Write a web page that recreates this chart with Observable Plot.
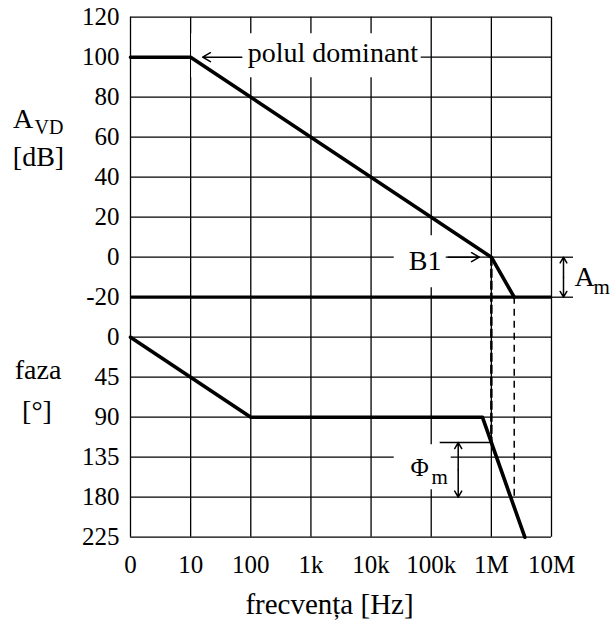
<!DOCTYPE html>
<html><head><meta charset="utf-8">
<script src="https://cdn.jsdelivr.net/npm/d3@7"></script>
<script src="https://cdn.jsdelivr.net/npm/@observablehq/plot@0.6"></script>
<style>html,body{margin:0;padding:0;background:#fff}</style>
</head><body><div id="chart"></div>
<script>
// ---- data ----
const freqTicks = [1, 10, 100, 1e3, 1e4, 1e5, 1e6, 1e7];
const freqLabels = ["0", "10", "100", "1k", "10k", "100k", "1M", "10M"];
const gainTicks = [120, 100, 80, 60, 40, 20, 0, -20];
const phaseTicks = [0, 45, 90, 135, 180, 225];

const gainFreq = [1, 10, 1e6, 2.4e6];
const gainDb = [100, 100, 0, -20];
const phaseFreq = [1, 100, 7.1e5, 3.6e6];
const phaseDeg = [0, 90, 90, 225];

// ---- shared vertical axis: phase rows continue below the gain rows ----
const dbPerDeg = 20 / 45;
const phaseZero = d3.min(gainTicks) - 20;
const phaseToY = d => phaseZero - d * dbPerDeg;

const yTicks = [...gainTicks, ...phaseTicks.map(phaseToY)];
const yLabels = [...gainTicks, ...phaseTicks].map(String);
const yLabelMap = new Map(yTicks.map((v, i) => [v, yLabels[i]]));
const xLabelMap = new Map(freqTicks.map((v, i) => [v, freqLabels[i]]));

const gain = gainFreq.map((f, i) => ({f, v: gainDb[i]}));
const phase = phaseFreq.map((f, i) => ({f, v: phaseToY(phaseDeg[i])}));

const fCross = gainFreq[gainDb.indexOf(0)];
const fMargin = gainFreq[gainFreq.length - 1];
const gMargin = gainDb[gainDb.length - 1];
function phaseAt(f) {
  const lf = Math.log10(f);
  for (let i = 1; i < phaseFreq.length; i++) {
    const a = Math.log10(phaseFreq[i - 1]), b = Math.log10(phaseFreq[i]);
    if (lf <= b) return phaseDeg[i - 1] + (phaseDeg[i] - phaseDeg[i - 1]) * (lf - a) / (b - a);
  }
  return phaseDeg[phaseDeg.length - 1];
}
const phiCross = phaseAt(fCross);
const phase180 = phaseTicks[4];

const F = "'Liberation Serif', 'Times New Roman', serif";
const one = [0];

const plot = Plot.plot({
  width: 615,
  height: 621,
  marginLeft: 130,
  marginRight: 64,
  marginTop: 16.7,
  marginBottom: 84.3,
  style: {fontFamily: F, fontSize: "25px", background: "white", color: "black"},
  x: {type: "log", domain: [freqTicks[0], freqTicks[freqTicks.length - 1]]},
  y: {domain: [phaseToY(d3.max(phaseTicks)), d3.max(gainTicks)]},
  marks: [
    // grid
    Plot.ruleX(freqTicks, {x: d => d, stroke: "black", strokeWidth: 1.3}),
    Plot.ruleY(yTicks, {y: d => d, stroke: "black", strokeWidth: 1.3}),
    Plot.ruleY([0, gMargin], {y: d => d, x1: 1e7, x2: 1e7, insetRight: -22, stroke: "black", strokeWidth: 1.3}),
    // white label backgrounds
    Plot.ruleY([gainDb[1]], {y: d => d, x1: 10, x2: 1e5, insetLeft: 1, insetRight: 10, dy: -2, stroke: "white", strokeWidth: 44}),
    Plot.ruleY([0], {y: d => d, x1: 1e5, x2: 1e5, insetLeft: -37, insetRight: -15, dy: 4, stroke: "white", strokeWidth: 52}),
    Plot.ruleY([phaseToY(135)], {y: d => d, x1: 1e5, x2: 1e5, insetLeft: -37, insetRight: -20, dy: 9.5, stroke: "white", strokeWidth: 45}),
    // gain-margin reference level
    Plot.ruleY([gMargin], {y: d => d, stroke: "black", strokeWidth: 3.3}),
    // dashed verticals
    Plot.ruleX([fCross], {x: d => d, y1: 0, y2: phaseToY(phiCross), stroke: "black", strokeWidth: 2.5, strokeDasharray: "9,3"}),
    Plot.ruleX([fMargin], {x: d => d, y1: gMargin, y2: phaseToY(phase180), stroke: "black", strokeWidth: 1.5, strokeDasharray: "7,5"}),
    // curves
    Plot.line(gain, {x: "f", y: "v", stroke: "black", strokeWidth: 3.6}),
    Plot.line(phase, {x: "f", y: "v", stroke: "black", strokeWidth: 3.6}),
    // phase margin reference tick
    Plot.ruleY([phaseToY(phiCross)], {y: d => d, x1: 1e5, x2: fCross, insetLeft: 9, stroke: "black", strokeWidth: 1.3}),
    // arrows
    Plot.arrow(one, {x1: 100, x2: gainFreq[1], y1: gainDb[1], y2: gainDb[1], insetStart: 9, insetEnd: 12, headLength: 9, headAngle: 60, stroke: "black", strokeWidth: 1.5}),
    Plot.arrow(one, {x1: 1e5, x2: fCross, y1: 0, y2: 0, insetStart: 17, insetEnd: 12, headLength: 9, headAngle: 60, stroke: "black", strokeWidth: 1.5}),
    Plot.arrow(one, {x1: 1e7, x2: 1e7, y1: gMargin / 2, y2: 0, dx: 12, headLength: 7, headAngle: 60, stroke: "black", strokeWidth: 1.5}),
    Plot.arrow(one, {x1: 1e7, x2: 1e7, y1: gMargin / 2, y2: gMargin, dx: 12, headLength: 7, headAngle: 60, stroke: "black", strokeWidth: 1.5}),
    Plot.arrow(one, {x1: 1e5, x2: 1e5, y1: phaseToY((phiCross + phase180) / 2), y2: phaseToY(phiCross), dx: 27, headLength: 7, headAngle: 60, stroke: "black", strokeWidth: 1.5}),
    Plot.arrow(one, {x1: 1e5, x2: 1e5, y1: phaseToY((phiCross + phase180) / 2), y2: phaseToY(phase180), dx: 27, headLength: 7, headAngle: 60, stroke: "black", strokeWidth: 1.5}),
    // annotation texts
    Plot.text(["polul dominant"], {x: 100, y: gainDb[1], text: d => d, textAnchor: "start", lineAnchor: "bottom", dx: -3, dy: 5, fontSize: 28}),
    Plot.text(["B1"], {x: 1e5, y: 0, text: d => d, textAnchor: "middle", lineAnchor: "bottom", dx: -6, dy: 12.6, fontSize: 28}),
    Plot.text(["Φ"], {x: 1e5, y: phaseToY(135), text: d => d, textAnchor: "middle", lineAnchor: "bottom", dx: -11.5, dy: 18.3, fontSize: 25}),
    Plot.text(["m"], {x: 1e5, y: phaseToY(135), text: d => d, textAnchor: "middle", lineAnchor: "bottom", dx: 8.5, dy: 26.3, fontSize: 21}),
    Plot.text(["A"], {x: 1e7, y: gMargin, text: d => d, textAnchor: "middle", lineAnchor: "bottom", dx: 33, dy: -11.7, fontSize: 28}),
    Plot.text(["m"], {x: 1e7, y: gMargin, text: d => d, textAnchor: "start", lineAnchor: "bottom", dx: 42, dy: -3.7, fontSize: 21}),
    // axis titles
    Plot.text(["A"], {y: 60, frameAnchor: "left", text: d => d, textAnchor: "middle", lineAnchor: "bottom", dx: -107.5, dy: -9.7, fontSize: 28}),
    Plot.text(["VD"], {y: 60, frameAnchor: "left", text: d => d, textAnchor: "middle", lineAnchor: "bottom", dx: -81.5, dy: -3.7, fontSize: 20}),
    Plot.text(["[dB]"], {y: 60, frameAnchor: "left", text: d => d, textAnchor: "middle", lineAnchor: "bottom", dx: -92, dy: 28.3, fontSize: 28}),
    Plot.text(["faza"], {y: phaseToY(45), frameAnchor: "left", text: d => d, textAnchor: "middle", lineAnchor: "bottom", dx: -92.5, dy: 1.3, fontSize: 28}),
    Plot.text(["[°]"], {y: phaseToY(90), frameAnchor: "left", text: d => d, textAnchor: "middle", lineAnchor: "bottom", dx: -93.5, dy: 2.3, fontSize: 28}),
    Plot.text(["frecvența [Hz]"], {frameAnchor: "bottom", text: d => d, textAnchor: "middle", lineAnchor: "bottom", dx: -11.5, dy: 76.6, fontSize: 29}),
    // axes
    Plot.axisX({ticks: freqTicks, tickFormat: d => xLabelMap.get(d), tickSize: 0, tickPadding: 18, fontSize: 25, label: null}),
    Plot.axisY({ticks: yTicks, tickFormat: d => yLabelMap.get(d), tickSize: 0, tickPadding: 11, fontSize: 25, label: null})
  ]
});
document.getElementById("chart").append(plot);
</script>
</body></html>
